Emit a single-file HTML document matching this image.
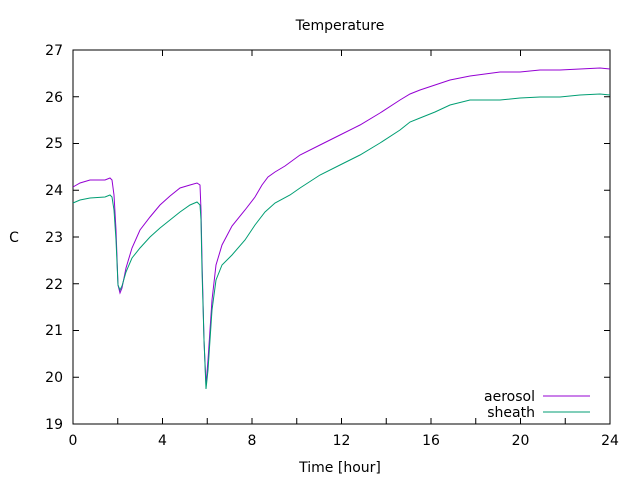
<!DOCTYPE html>
<html><head><style>body{margin:0;background:#fff}svg{display:block}text{font-family:"DejaVu Sans","Liberation Sans",sans-serif;font-size:14px;fill:#000}</style></head>
<body>
<svg width="640" height="480" xmlns="http://www.w3.org/2000/svg">
<rect x="73" y="50" width="537" height="374" fill="none" stroke="#000" stroke-width="1"/>
<g stroke="#000" stroke-width="1">
<path d="M73,424v-6M117.75,424v-6M162.5,424v-6M207.25,424v-6M252,424v-6M296.75,424v-6M341.5,424v-6M386.25,424v-6M431,424v-6M475.75,424v-6M520.5,424v-6M565.25,424v-6M610,424v-6"/>
<path d="M73,50v6M162.5,50v6M252,50v6M341.5,50v6M431,50v6M520.5,50v6M610,50v6"/>
<path d="M73,424h6M73,377.25h6M73,330.5h6M73,283.75h6M73,237h6M73,190.25h6M73,143.5h6M73,96.75h6M73,50h6"/>
<path d="M610,424h-6M610,377.25h-6M610,330.5h-6M610,283.75h-6M610,237h-6M610,190.25h-6M610,143.5h-6M610,96.75h-6M610,50h-6"/>
</g>
<g text-anchor="end">
<text x="63" y="429">19</text><text x="63" y="382">20</text><text x="63" y="335">21</text><text x="63" y="289">22</text><text x="63" y="242">23</text><text x="63" y="195">24</text><text x="63" y="148">25</text><text x="63" y="102">26</text><text x="63" y="55">27</text>
</g>
<g text-anchor="middle">
<text x="73" y="445">0</text><text x="162.5" y="445">4</text><text x="252" y="445">8</text><text x="341.5" y="445">12</text><text x="431" y="445">16</text><text x="520.5" y="445">20</text><text x="610" y="445">24</text>
<text x="340" y="472">Time [hour]</text>
<text x="340" y="30">Temperature</text>
<text x="14" y="242">C</text>
</g>
<polyline fill="none" stroke="#9400d3" stroke-width="1" points="73,187 80,183 90,180 105,180 110,178 112,180 114,195 116,230 118,285 120,293 122,288 126,268 132,248 140,230 150,217 160,205 170,196 180,188 190,185 197,183 200,185 201,210 202,260 204,340 206,385 208,360 212,300 216,265 222,245 232,226 245,210 255,197 262,185 268,177 275,172 285,166 300,155 320,145 340,135 360,125 380,113 400,100 410,94 420,90 435,85 450,80 470,76 500,72 520,72 540,70 560,70 580,69 600,68 610,69"/>
<polyline fill="none" stroke="#009e73" stroke-width="1" points="73,203 80,200 90,198 105,197 110,195 112,197 114,210 116,240 118,285 120,290 122,286 126,272 132,258 140,248 150,237 160,228 170,220 180,212 190,205 197,202 200,205 201,220 202,270 204,340 206,389 208,370 212,310 216,280 222,265 232,255 245,240 255,225 265,212 275,203 290,195 300,188 320,175 340,165 360,155 380,143 400,130 410,122 420,118 435,112 450,105 470,100 500,100 520,98 540,97 560,97 580,95 600,94 610,95"/>
<text x="535" y="401" text-anchor="end">aerosol</text>
<line x1="543" y1="396" x2="590" y2="396" stroke="#9400d3"/>
<text x="535" y="417" text-anchor="end">sheath</text>
<line x1="543" y1="412" x2="590" y2="412" stroke="#009e73"/>
</svg>
</body></html>
